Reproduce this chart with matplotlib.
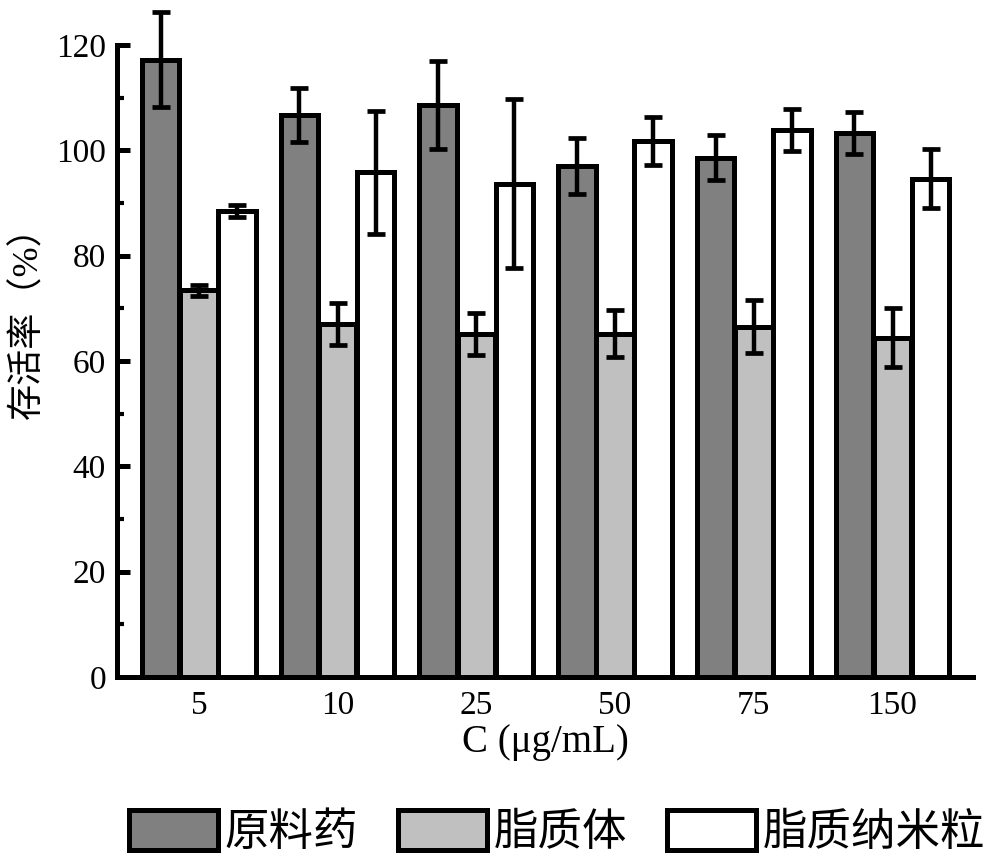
import matplotlib
matplotlib.use("Agg")
import matplotlib.pyplot as plt
import numpy as np
from matplotlib.ticker import MultipleLocator

plt.rcParams['font.family'] = ['Liberation Serif', 'Noto Sans CJK SC', 'DejaVu Sans']

concentrations = ['5', '10', '25', '50', '75', '150']
series_names = ['原料药', '脂质体', '脂质纳米粒']
raw_drug = [117.2, 106.7, 108.6, 97.1, 98.6, 103.3]
raw_drug_err = [9.0, 5.2, 8.4, 5.3, 4.3, 3.9]
liposome = [73.4, 67.1, 65.2, 65.2, 66.5, 64.4]
liposome_err = [1.0, 4.0, 4.0, 4.5, 5.0, 5.6]
nanoparticle = [88.5, 95.8, 93.7, 101.8, 103.9, 94.6]
nanoparticle_err = [1.1, 11.6, 16.1, 4.6, 4.0, 5.6]

colors = ['#808080', '#c0c0c0', '#ffffff']

fig = plt.figure(figsize=(10, 8.64), dpi=100)
ax = fig.add_axes([0.117, 0.2164, 0.856, 0.7315])

x = np.arange(len(concentrations))
width = 0.27
offset = 0.275
values = [raw_drug, liposome, nanoparticle]
errors = [raw_drug_err, liposome_err, nanoparticle_err]

handles = []
for i, (vals, errs) in enumerate(zip(values, errors)):
    bars = ax.bar(x + (i - 1) * offset, vals, width, color=colors[i],
                  edgecolor='black', linewidth=3.6, label=series_names[i], zorder=2)
    eb = ax.errorbar(x + (i - 1) * offset, vals, yerr=errs, fmt='none', ecolor='black',
                     elinewidth=3.2, capsize=6.5, capthick=3.4, zorder=3)
    # let the tallest error bar poke above the axis top
    for artist in eb.lines[1] + eb.lines[2]:
        artist.set_clip_on(False)
    handles.append(bars)

ax.set_xlim(-0.59, 5.58)
ax.set_ylim(0, 120)
ax.set_xticks(x)
ax.set_xticklabels(concentrations)
ax.yaxis.set_major_locator(MultipleLocator(20))
ax.yaxis.set_minor_locator(MultipleLocator(10))

for side in ['top', 'right']:
    ax.spines[side].set_visible(False)
for side in ['left', 'bottom']:
    ax.spines[side].set_linewidth(3.6)

ax.tick_params(axis='y', which='major', direction='in', length=9, width=3.6, labelsize=24, pad=8)
ax.tick_params(axis='y', which='minor', direction='in', length=5, width=3.0)
ax.tick_params(axis='x', length=0, labelsize=24, pad=10)

ax.set_xlabel('C (μg/mL)', fontsize=28, labelpad=2)
ax.set_ylabel('存活率（%）', fontsize=26)
ax.yaxis.set_label_coords(-0.084, 0.575)

fig.legend(handles, series_names, loc='center', bbox_to_anchor=(0.557, 0.037),
           ncol=3, frameon=False, fontsize=32, handlelength=2.0, handleheight=1.0,
           handletextpad=0.15, columnspacing=0.9)

fig.savefig('out.png', dpi=100)
